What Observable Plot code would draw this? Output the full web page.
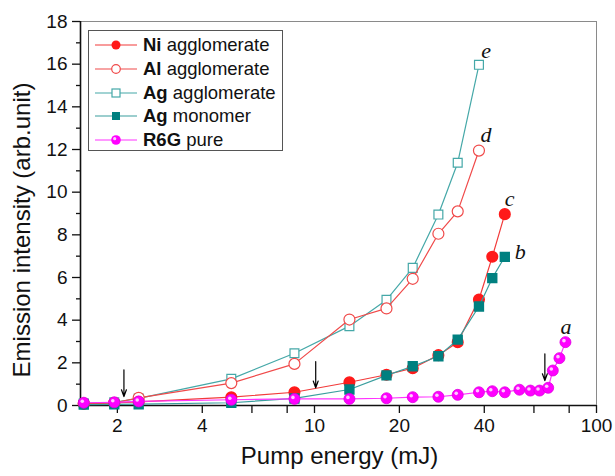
<!DOCTYPE html>
<html><head><meta charset="utf-8">
<script src="https://cdn.jsdelivr.net/npm/d3@7"></script>
<script src="https://cdn.jsdelivr.net/npm/@observablehq/plot@0.6"></script>
<style>body{margin:0;background:#fff;font-family:"Liberation Sans",Arial,sans-serif}</style>
</head><body><div id="chart"></div>
<script>
// ---- data (pump energy in mJ, emission intensity in arb. unit) ----
const energyNi = [1.52,1.95,2.38,5.07,8.49,13.3,18.0,22.3,27.5,32.2,38.3,42.7,47.3];
const intensityNi = [0.08,0.12,0.17,0.39,0.62,1.09,1.44,1.75,2.36,2.97,4.97,6.97,8.97];
const energyAl = [1.52,1.95,2.38,5.07,8.49,13.3,18.0,22.3,27.5,32.2,38.3];
const intensityAl = [0.09,0.13,0.36,1.05,1.95,4.03,4.55,5.94,8.05,9.1,11.95];
const energyAgAgg = [1.52,1.95,2.38,5.07,8.49,13.3,18.0,22.3,27.5,32.2,38.3];
const intensityAgAgg = [0.1,0.15,0.33,1.25,2.45,3.72,4.95,6.45,8.95,11.38,15.97];
const energyAgMono = [1.52,1.95,2.38,5.07,8.49,13.3,18.0,22.3,27.5,32.2,38.3,42.7,47.3];
const intensityAgMono = [0.04,0.05,0.06,0.13,0.33,0.75,1.41,1.84,2.31,3.09,4.64,5.97,6.97];
const energyR6G = [1.52,1.95,2.38,5.07,8.49,13.3,18.0,22.3,27.5,32.2,38.3,42.7,47.3,53.3,58.3,62.8,67.4,70.0,73.9,77.6];
const intensityR6G = [0.13,0.15,0.19,0.27,0.31,0.31,0.34,0.39,0.41,0.50,0.62,0.67,0.62,0.74,0.70,0.70,0.83,1.64,2.22,2.97];

const xTicks = [2,4,6,8,10,20,40,60,80,100];
const yTicks = [0,2,4,6,8,10,12,14,16,18];
const yMinorTicks = [1,3,5,7,9,11,13,15,17];

const curveLetters = ["a","b","c","d","e"];
const letterEnergy = [78,53.7,49.2,40.6,40.6];
const letterIntensity = [3.7,7.2,9.7,12.7,16.6];

const arrowEnergy = [2.11,10.1,65.6];
const arrowTop = [1.67,2.06,2.42];
const arrowBottom = [0.42,0.83,1.17];

const legendNames = [["Ni"," agglomerate"],["Al"," agglomerate"],["Ag"," agglomerate"],["Ag"," monomer"],["R6G"," pure"]];
const xTitle = "Pump energy (mJ)";
const yTitle = "Emission intensity (arb.unit)";

// ---- build tables ----
const zip = (xs, ys) => xs.map((x, i) => ({x, y: ys[i]}));
const ni = zip(energyNi, intensityNi);
const al = zip(energyAl, intensityAl);
const agAgg = zip(energyAgAgg, intensityAgAgg);
const agMono = zip(energyAgMono, intensityAgMono);
const r6g = zip(energyR6G, intensityR6G);
const letters = curveLetters.map((t, i) => ({t, x: letterEnergy[i], y: letterIntensity[i]}));
const arrows = arrowEnergy.map((x, i) => ({x, y1: arrowTop[i], y2: arrowBottom[i]}));

const C = {
  ni: "#ff1a1a", niLine: "#f23a3a",
  al: "#f04a4a",
  agAgg: "#45a8a8",
  agMono: "#008080", agMonoLine: "#3a9e9e",
  r6g: "#ff00ff", r6gLine: "#ff33ff"
};
const font = "Liberation Sans, Arial, sans-serif";
const xMin = 1.48;

const chart = Plot.plot({
  width: 615, height: 476,
  marginLeft: 80, marginRight: 19, marginTop: 21, marginBottom: 71,
  style: {fontFamily: font, background: "#fff", color: "#111", overflow: "visible"},
  x: {type: "log", domain: [xMin, 100], label: null},
  y: {domain: [0, 18], label: null},
  marks: [
    Plot.frame({stroke: "#8a8a8a", strokeWidth: 1}),
    Plot.axisY({ticks: yTicks, tickSize: 8, tickPadding: 5, fontSize: 19, label: null, strokeWidth: 1.3}),
    Plot.axisY({ticks: yMinorTicks, tickSize: 4, text: null, label: null, strokeWidth: 1.3}),
    Plot.axisX({ticks: xTicks, tickSize: 8, tickPadding: 5, fontSize: 19, tickFormat: d => String(d), label: null, strokeWidth: 1.3}),
    Plot.ruleX([xMin], {stroke: "#111", strokeWidth: 1.6}),
    Plot.ruleY([0], {stroke: "#111", strokeWidth: 1.6}),
    // Ag agglomerate
    Plot.line(agAgg, {x: "x", y: "y", stroke: C.agAgg, strokeWidth: 1.2}),
    Plot.dot(agAgg, {x: "x", y: "y", symbol: "square", r: 5, fill: "#fff", stroke: C.agAgg, strokeWidth: 1.2}),
    // Al agglomerate
    Plot.line(al, {x: "x", y: "y", stroke: C.al, strokeWidth: 1.2}),
    Plot.dot(al, {x: "x", y: "y", r: 5.5, fill: "#fff", stroke: C.al, strokeWidth: 1.2}),
    // Ni agglomerate
    Plot.line(ni, {x: "x", y: "y", stroke: C.niLine, strokeWidth: 1.2}),
    Plot.dot(ni, {x: "x", y: "y", r: 5.3, fill: C.ni, stroke: C.ni}),
    // Ag monomer
    Plot.line(agMono, {x: "x", y: "y", stroke: C.agMonoLine, strokeWidth: 1.2}),
    Plot.dot(agMono, {x: "x", y: "y", symbol: "square", r: 5, fill: C.agMono, stroke: C.agMono}),
    // R6G pure
    Plot.line(r6g, {x: "x", y: "y", stroke: C.r6gLine, strokeWidth: 1.2}),
    Plot.dot(r6g, {x: "x", y: "y", r: 5.5, fill: C.r6g, stroke: "#e000e0", strokeWidth: 0.8}),
    Plot.dot(r6g, {x: "x", y: "y", r: 1.8, fill: "#ffc8ff", stroke: "none", dx: -1.5, dy: -1.5}),
    // arrows
    Plot.arrow(arrows, {x: "x", y1: "y1", y2: "y2", stroke: "#000", strokeWidth: 1.2, headLength: 9, headAngle: 40}),
    // curve letters
    Plot.text(letters, {x: "x", y: "y", text: "t", fontFamily: "Liberation Serif, Times New Roman, serif", fontStyle: "italic", fontSize: 22, fill: "#111"}),
    // x axis title
    Plot.text([xTitle], {frameAnchor: "bottom", dy: 58, dx: 1, fontSize: 24, fill: "#111", fontFamily: font})
  ]
});

const svg = d3.select(chart);
// ---- y axis title ----
svg.append("text").attr("transform", "translate(30,230) rotate(-90)")
  .attr("text-anchor", "middle").attr("font-family", font).attr("font-size", 24)
  .attr("fill", "#111").text(yTitle);

// ---- legend ----
const lg = svg.append("g").attr("font-family", font).attr("font-size", 18.5).attr("text-anchor", "start");
lg.append("rect").attr("x", 88.5).attr("y", 30.5).attr("width", 194).attr("height", 120)
  .attr("fill", "#fff").attr("stroke", "#555").attr("stroke-width", 1);
const rows = [45, 69, 93, 116, 140];
const lineCols = [C.niLine, C.al, C.agAgg, C.agMonoLine, C.r6gLine];
rows.forEach((ry, i) => {
  lg.append("line").attr("x1", 95).attr("x2", 137).attr("y1", ry).attr("y2", ry)
    .attr("stroke", lineCols[i]).attr("stroke-width", 1.2);
  const cx = 116;
  if (i === 0) lg.append("circle").attr("cx", cx).attr("cy", ry).attr("r", 4.5).attr("fill", C.ni);
  if (i === 1) lg.append("circle").attr("cx", cx).attr("cy", ry).attr("r", 4.3).attr("fill", "#fff").attr("stroke", C.al).attr("stroke-width", 1.2);
  if (i === 2) lg.append("rect").attr("x", cx - 4).attr("y", ry - 4).attr("width", 8).attr("height", 8).attr("fill", "#fff").attr("stroke", C.agAgg).attr("stroke-width", 1.2);
  if (i === 3) lg.append("rect").attr("x", cx - 4).attr("y", ry - 4).attr("width", 8).attr("height", 8).attr("fill", C.agMono);
  if (i === 4) {
    lg.append("circle").attr("cx", cx).attr("cy", ry).attr("r", 4.8).attr("fill", C.r6g);
    lg.append("circle").attr("cx", cx - 1.3).attr("cy", ry - 1.3).attr("r", 1.6).attr("fill", "#ffc8ff");
  }
  const t = lg.append("text").attr("x", 143).attr("y", ry + 6).attr("fill", "#111").attr("text-anchor", "start");
  t.append("tspan").attr("font-weight", "bold").text(legendNames[i][0]);
  t.append("tspan").text(legendNames[i][1]);
});

document.getElementById("chart").appendChild(chart);
</script>
</body></html>
